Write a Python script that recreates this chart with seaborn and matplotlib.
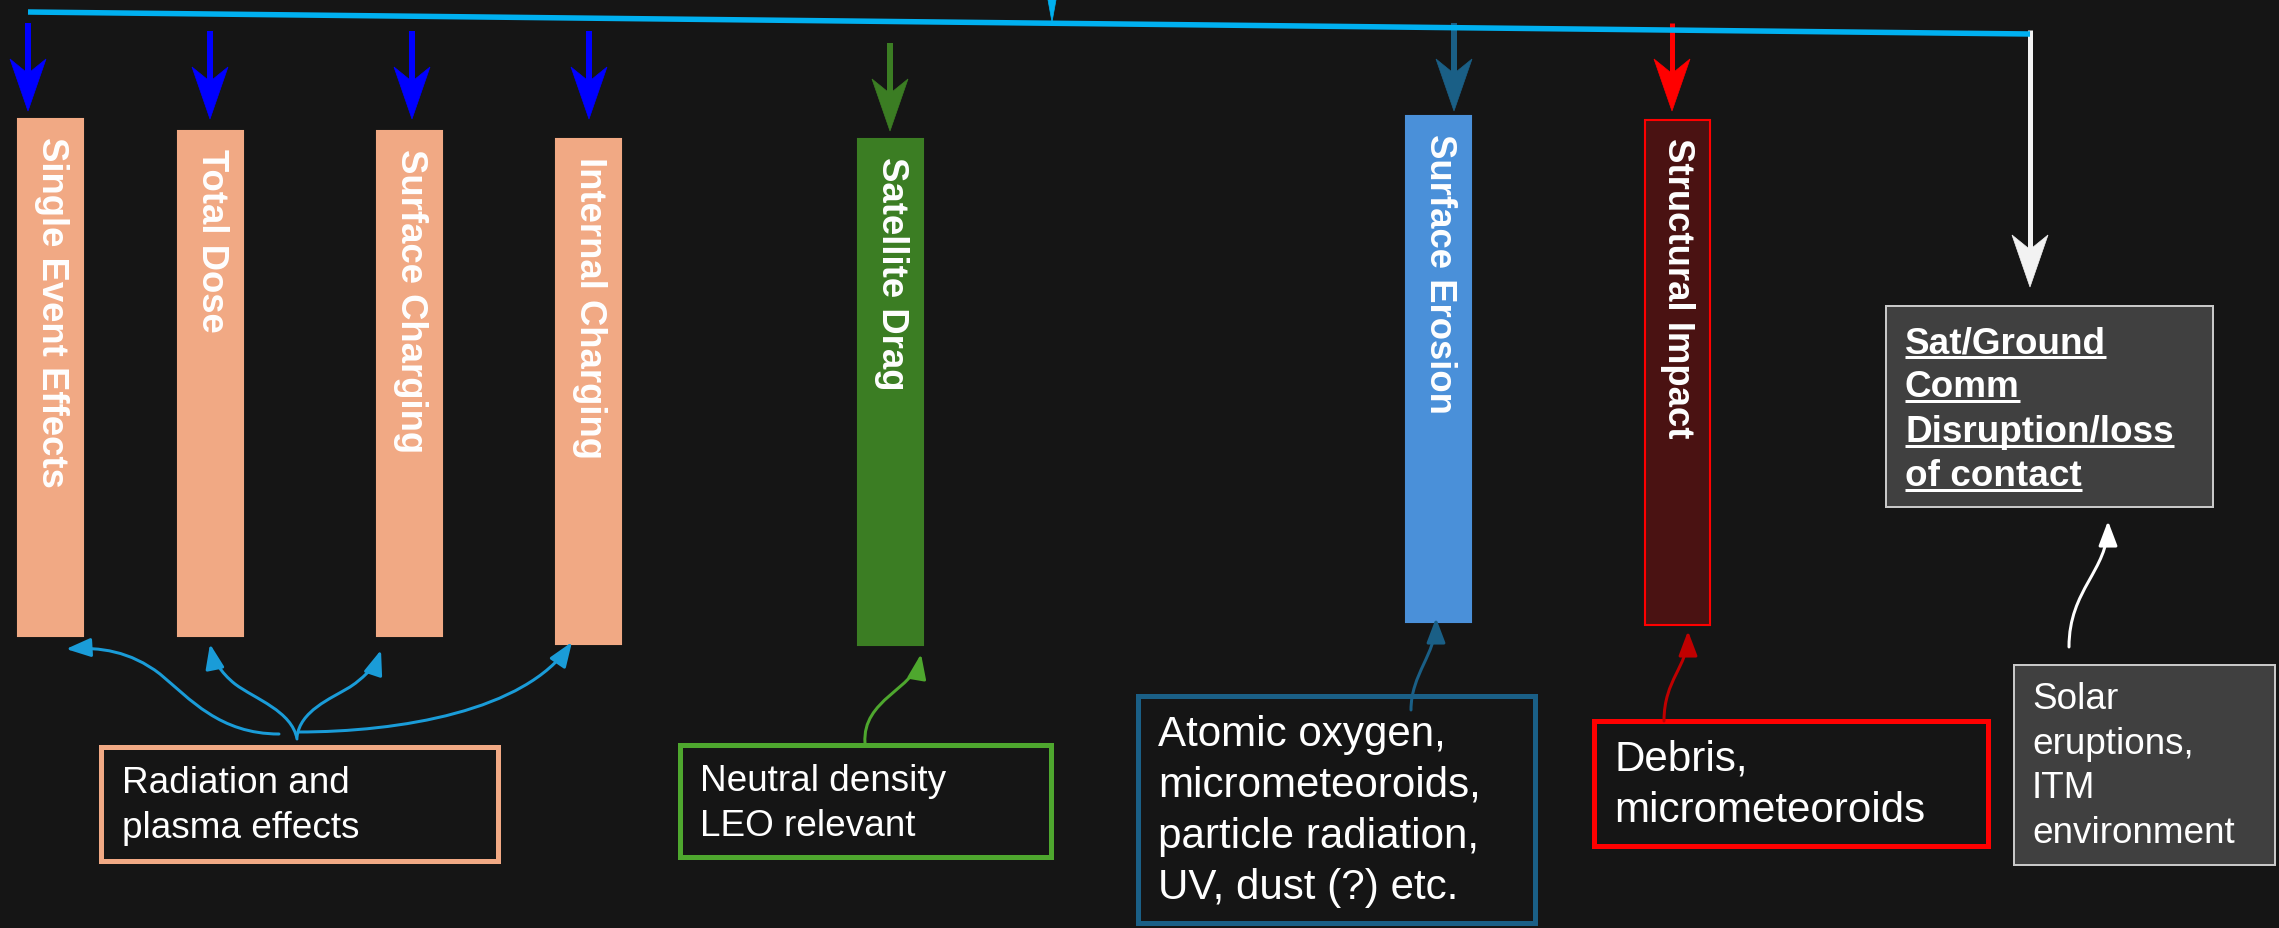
import matplotlib
matplotlib.use("Agg")
import matplotlib.pyplot as plt
import seaborn as sns
from matplotlib.patches import Rectangle, FancyArrowPatch, Polygon
from matplotlib.path import Path

# ---------------- data ----------------
effects = ["Single Event Effects", "Total Dose", "Surface Charging", "Internal Charging",
           "Satellite Drag", "Surface Erosion", "Structural Impact"]
bar_center = [50.5, 210.5, 409.5, 588.5, 890.5, 1438.5, 1677]
bar_top = [120, 132, 132, 140, 140, 117, 121]
bar_bottom = [637, 637, 637, 645, 646, 623, 626]

source_labels = [
    ["Radiation and", "plasma effects"],
    ["Neutral density", "LEO relevant"],
    ["Atomic oxygen,", "micrometeoroids,", "particle radiation,", "UV, dust (?) etc."],
    ["Debris,", "micrometeoroids"],
    ["Solar", "eruptions,", "ITM", "environment"],
]
comm_label = ["Sat/Ground", "Comm", "Disruption/loss", "of contact"]

# ---------------- style ----------------
BG = "#151515"
sns.set_theme(style="dark", rc={"figure.facecolor": BG, "axes.facecolor": BG})
plt.rcParams["font.family"] = ["Liberation Sans", "DejaVu Sans"]

SALMON = "#f1a984"
bar_fill = [SALMON, SALMON, SALMON, SALMON, "#3b7d23", "#4a90d9", "#4a1212"]
bar_edge = [SALMON, SALMON, SALMON, SALMON, "#3b7d23", "#4a90d9", "#ff0000"]

W, H = 2279, 929
fig = plt.figure(figsize=(W / 100, H / 100), dpi=100)
ax = fig.add_axes([0, 0, 1, 1])
ax.set_xlim(0, W)
ax.set_ylim(H, 0)
ax.axis("off")
ax.set_facecolor(BG)

PT = 0.72  # px -> pt at 100 dpi

# ---------------- bars ----------------
heights = [b - t for t, b in zip(bar_top, bar_bottom)]
ax.bar(bar_center, heights, bottom=bar_top, width=65, color=bar_fill,
       edgecolor=bar_edge, linewidth=1.5, zorder=3)
for cx, t, lab in zip(bar_center, bar_top, effects):
    ax.text(cx + 1, t + 17, lab, rotation=-90, ha="center", va="top",
            color="white", fontsize=26.3, fontweight="bold", zorder=4)


# ---------------- straight arrows ----------------
def stealth(x0, y0, x1, y1, color, lw_px=6, hl=52, hw=36, notch=0.72, z=5):
    import math
    dx, dy = x1 - x0, y1 - y0
    L = math.hypot(dx, dy)
    ux, uy = dx / L, dy / L
    nx, ny = -uy, ux
    bx, by = x1 - ux * hl, y1 - uy * hl
    kx, ky = x1 - ux * hl * notch, y1 - uy * hl * notch
    ax.plot([x0, kx], [y0, ky], color=color, lw=lw_px * PT,
            solid_capstyle="butt", zorder=z)
    poly = Polygon([(x1, y1), (bx + nx * hw / 2, by + ny * hw / 2), (kx, ky),
                    (bx - nx * hw / 2, by - ny * hw / 2)], closed=True,
                   facecolor=color, edgecolor=color, lw=0.5, zorder=z)
    ax.add_patch(poly)


# top distribution line
ax.plot([28, 2030], [13, 35], color="#00b0f0", lw=5.5 * PT, zorder=6,
        solid_capstyle="butt")
stealth(1052, -40, 1052, 23, "#00b0f0", lw_px=6, hl=55, hw=20)

for x, y0 in [(28, 24), (210, 32), (412, 32), (589, 32)]:
    stealth(x, y0, x, y0 + 88, "#0000ff")
stealth(890, 44, 890, 132, "#3b7d23")
stealth(1454, 24, 1454, 112, "#1a5f86")
stealth(1672, 24, 1672, 112, "#ff0000", lw_px=5)
stealth(2030, 31, 2030, 288, "#f2f2f2", lw_px=5)


# ---------------- curved arrows ----------------
def curve(verts, color, lw_px=3):
    codes = [Path.MOVETO] + [Path.CURVE4] * (len(verts) - 1)
    p = FancyArrowPatch(path=Path(verts, codes),
                        arrowstyle="-|>,head_length=1.0,head_width=0.38",
                        mutation_scale=15, color=color, lw=lw_px * PT,
                        shrinkA=0, shrinkB=0, zorder=5)
    ax.add_patch(p)


RB = "#1a9cd8"
curve([(279, 735), (220, 735), (190, 700), (160, 675),
       (130, 652), (100, 648), (66, 650)], RB)
curve([(297, 740), (292, 712), (255, 700), (235, 685),
       (220, 673), (213, 660), (210, 645)], RB)
curve([(297, 738), (300, 712), (330, 700), (350, 688),
       (365, 678), (376, 666), (381, 651)], RB)
curve([(298, 733), (400, 733), (525, 712), (572, 643)], RB)
curve([(865, 744), (862, 700), (915, 690), (921, 655)], "#4ea72e")
curve([(1411, 711), (1411, 675), (1436, 655), (1436, 619)], "#1a5f86")
curve([(1664, 722), (1664, 680), (1688, 668), (1688, 632)], "#c00000")
curve([(2069, 648), (2069, 590), (2108, 572), (2108, 522)], "#ffffff")

# ---------------- boxes ----------------
boxes = [  # x0, y0, x1, y1, edge, face, lw_px, text_x, first_baseline, line_step, fontsize
    (101, 748, 498, 862, SALMON, BG, 5, 122, 793, 45, 26.6),
    (680, 746, 1051, 858, "#4ea72e", BG, 5, 700, 791, 45, 26.6),
    (1138, 697, 1535, 924, "#1a5f86", BG, 5, 1158, 746, 51, 30.3),
    (1594, 722, 1988, 847, "#ff0000", BG, 5, 1614, 771, 51, 30.3),
    (2014, 666, 2275, 866, "#c8c8c8", "#404040", 2, 2032, 709, 44.7, 26.6),
]
for (x0, y0, x1, y1, ec, fc, lw, tx, by, step, fs), lines in zip(boxes, source_labels):
    ax.add_patch(Rectangle((x0, y0), x1 - x0, y1 - y0, facecolor=fc, edgecolor=ec,
                           lw=lw * PT, zorder=4))
    for i, ln in enumerate(lines):
        ax.text(tx, by + i * step, ln, color="white", fontsize=fs,
                ha="left", va="baseline", zorder=6)

# communication box (bold, underlined)
ax.add_patch(Rectangle((1886, 307), 2213 - 1886, 508 - 307, facecolor="#404040",
                       edgecolor="#c8c8c8", lw=2 * PT, zorder=4))
comm_texts = []
for i, ln in enumerate(comm_label):
    t = ax.text(1905, 353 + i * 44.3, ln, color="white", fontsize=26.6,
                fontweight="bold", ha="left", va="baseline", zorder=6)
    comm_texts.append(t)
fig.canvas.draw()
r = fig.canvas.get_renderer()
inv = ax.transData.inverted()
for i, t in enumerate(comm_texts):
    bb = t.get_window_extent(renderer=r)
    (xa, _), (xb, _) = inv.transform([(bb.x0, bb.y0), (bb.x1, bb.y0)])
    yb = 353 + i * 44.3 + 5
    ax.plot([xa, xb], [yb, yb], color="white", lw=3 * PT, zorder=6,
            solid_capstyle="butt")

fig.savefig("out.png", dpi=100, facecolor=BG)
